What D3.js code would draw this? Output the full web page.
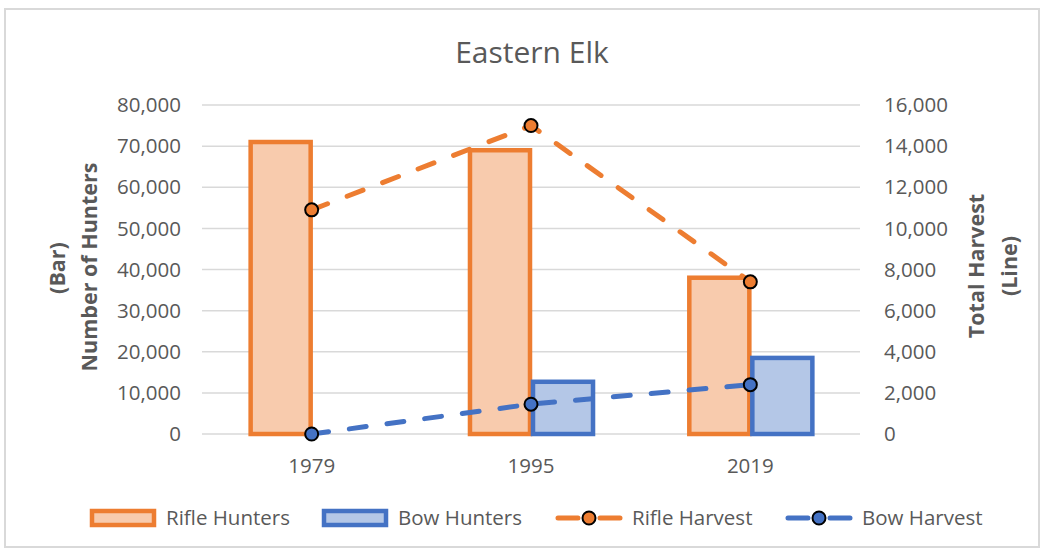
<!DOCTYPE html>
<html>
<head>
<meta charset="utf-8">
<script src="https://cdn.jsdelivr.net/npm/d3@7"></script>
<style>
  body { margin: 0; background: #fff; }
  text { font-family: "Open Sans", sans-serif; fill: #595959; }
</style>
</head>
<body>
<svg id="chart" width="1045" height="550"></svg>
<script>
const years = ["1979", "1995", "2019"];
const rifleHunters = [71000, 69000, 38000];
const bowHunters = [0, 12700, 18500];
const rifleHarvest = [10900, 15000, 7400];
const bowHarvest = [0, 1450, 2400];
const hunterTicks = [0, 10000, 20000, 30000, 40000, 50000, 60000, 70000, 80000];
const harvestTicks = [0, 2000, 4000, 6000, 8000, 10000, 12000, 14000, 16000];

const ORANGE = "#ED7D31", ORANGE_FILL = "#F8CBAD";
const BLUE = "#4472C4", BLUE_FILL = "#B4C7E7";
const GRID = "#d9d9d9";

const svg = d3.select("#chart");

// chart border
svg.append("rect")
  .attr("x", 5).attr("y", 9).attr("width", 1034).attr("height", 538)
  .attr("fill", "none").attr("stroke", GRID).attr("stroke-width", 2);

const plotL = 202, plotR = 860, plotT = 105, plotB = 434;

const x = d3.scaleBand().domain(years).range([plotL, plotR]).padding(0);
const yL = d3.scaleLinear().domain([0, 80000]).range([plotB, plotT]);
const yR = d3.scaleLinear().domain([0, 16000]).range([plotB, plotT]);
const fmt = d3.format(",");

// gridlines
svg.append("g").selectAll("line").data(hunterTicks).join("line")
  .attr("x1", plotL).attr("x2", plotR)
  .attr("y1", d => yL(d)).attr("y2", d => yL(d))
  .attr("stroke", GRID).attr("stroke-width", 1.5);

// left axis labels
svg.append("g").selectAll("text").data(hunterTicks).join("text")
  .attr("x", 181).attr("y", d => yL(d)).attr("dy", "0.35em")
  .attr("text-anchor", "end").style("font-size", "20.5px")
  .text(d => fmt(d));

// right axis labels
svg.append("g").selectAll("text").data(harvestTicks).join("text")
  .attr("x", 884).attr("y", d => yR(d)).attr("dy", "0.35em")
  .attr("text-anchor", "start").style("font-size", "20.5px")
  .text(d => fmt(d));

// x labels
svg.append("g").selectAll("text").data(years).join("text")
  .attr("x", d => x(d) + x.bandwidth() / 2).attr("y", 466).attr("dy", "0.35em")
  .attr("text-anchor", "middle").style("font-size", "20.5px")
  .text(d => d);

// bars (gap width ~148%)
const bw = x.bandwidth() / 3.48;
const sub = d3.scaleBand().domain(["rifle", "bow"]).range([-bw, bw]);
const barData = years.flatMap((yr, i) => [
  { yr, key: "rifle", v: rifleHunters[i], stroke: ORANGE, fill: ORANGE_FILL },
  { yr, key: "bow", v: bowHunters[i], stroke: BLUE, fill: BLUE_FILL }
]).filter(d => d.v > 0);

svg.append("g").selectAll("rect").data(barData).join("rect")
  .attr("x", d => x(d.yr) + x.bandwidth() / 2 + sub(d.key) + 2)
  .attr("y", d => yL(d.v))
  .attr("width", sub.bandwidth() - 3)
  .attr("height", d => plotB - yL(d.v))
  .attr("fill", d => d.fill).attr("stroke", d => d.stroke).attr("stroke-width", 4.5);

// lines
const cx = d => x(d) + x.bandwidth() / 2;
const line = d3.line().x((d, i) => cx(years[i])).y(d => yR(d));
[[rifleHarvest, ORANGE], [bowHarvest, BLUE]].forEach(([vals, col]) => {
  svg.append("path").datum(vals)
    .attr("d", line).attr("fill", "none")
    .attr("stroke", col).attr("stroke-width", 5)
    .attr("stroke-dasharray", "17,21").attr("stroke-linecap", "round");
  svg.append("g").selectAll("circle").data(vals).join("circle")
    .attr("cx", (d, i) => cx(years[i])).attr("cy", d => yR(d)).attr("r", 6.5)
    .attr("fill", col).attr("stroke", "#000").attr("stroke-width", 2);
});

// title
svg.append("text").attr("x", 532).attr("y", 52).attr("dy", "0.35em")
  .attr("text-anchor", "middle").style("font-size", "30px").text("Eastern Elk");

// axis titles
const titleStyle = sel => sel.attr("text-anchor", "middle")
  .style("font-size", "21.5px").style("font-weight", "bold");
svg.append("text").attr("transform", "translate(65,268) rotate(-90)")
  .call(titleStyle).text("(Bar)");
svg.append("text").attr("transform", "translate(97,267) rotate(-90)")
  .call(titleStyle).text("Number of Hunters");
svg.append("text").attr("transform", "translate(984,266) rotate(-90)")
  .call(titleStyle).text("Total Harvest");
svg.append("text").attr("transform", "translate(1017,266) rotate(-90)")
  .call(titleStyle).text("(Line)");

// legend
const legendItems = [
  { label: "Rifle Hunters", type: "bar", stroke: ORANGE, fill: ORANGE_FILL, x: 90 },
  { label: "Bow Hunters", type: "bar", stroke: BLUE, fill: BLUE_FILL, x: 322 },
  { label: "Rifle Harvest", type: "line", stroke: ORANGE, fill: ORANGE, x: 556 },
  { label: "Bow Harvest", type: "line", stroke: BLUE, fill: BLUE, x: 786 }
];
const ly = 518;
const lg = svg.append("g").selectAll("g").data(legendItems).join("g")
  .attr("transform", d => `translate(${d.x},${ly})`);
lg.filter(d => d.type === "bar").append("rect")
  .attr("x", 2).attr("y", -7).attr("width", 62).attr("height", 14)
  .attr("fill", d => d.fill).attr("stroke", d => d.stroke).attr("stroke-width", 4.5);
lg.filter(d => d.type === "line").append("line")
  .attr("x1", 2).attr("x2", 64).attr("y1", 0).attr("y2", 0)
  .attr("stroke", d => d.stroke).attr("stroke-width", 5)
  .attr("stroke-linecap", "round").attr("stroke-dasharray", "20,22");
lg.filter(d => d.type === "line").append("circle")
  .attr("cx", 33).attr("cy", 0).attr("r", 6.5)
  .attr("fill", d => d.fill).attr("stroke", "#000").attr("stroke-width", 2);
lg.append("text").attr("x", 76).attr("y", 0).attr("dy", "0.35em")
  .style("font-size", "20.5px").text(d => d.label);
</script>
</body>
</html>
